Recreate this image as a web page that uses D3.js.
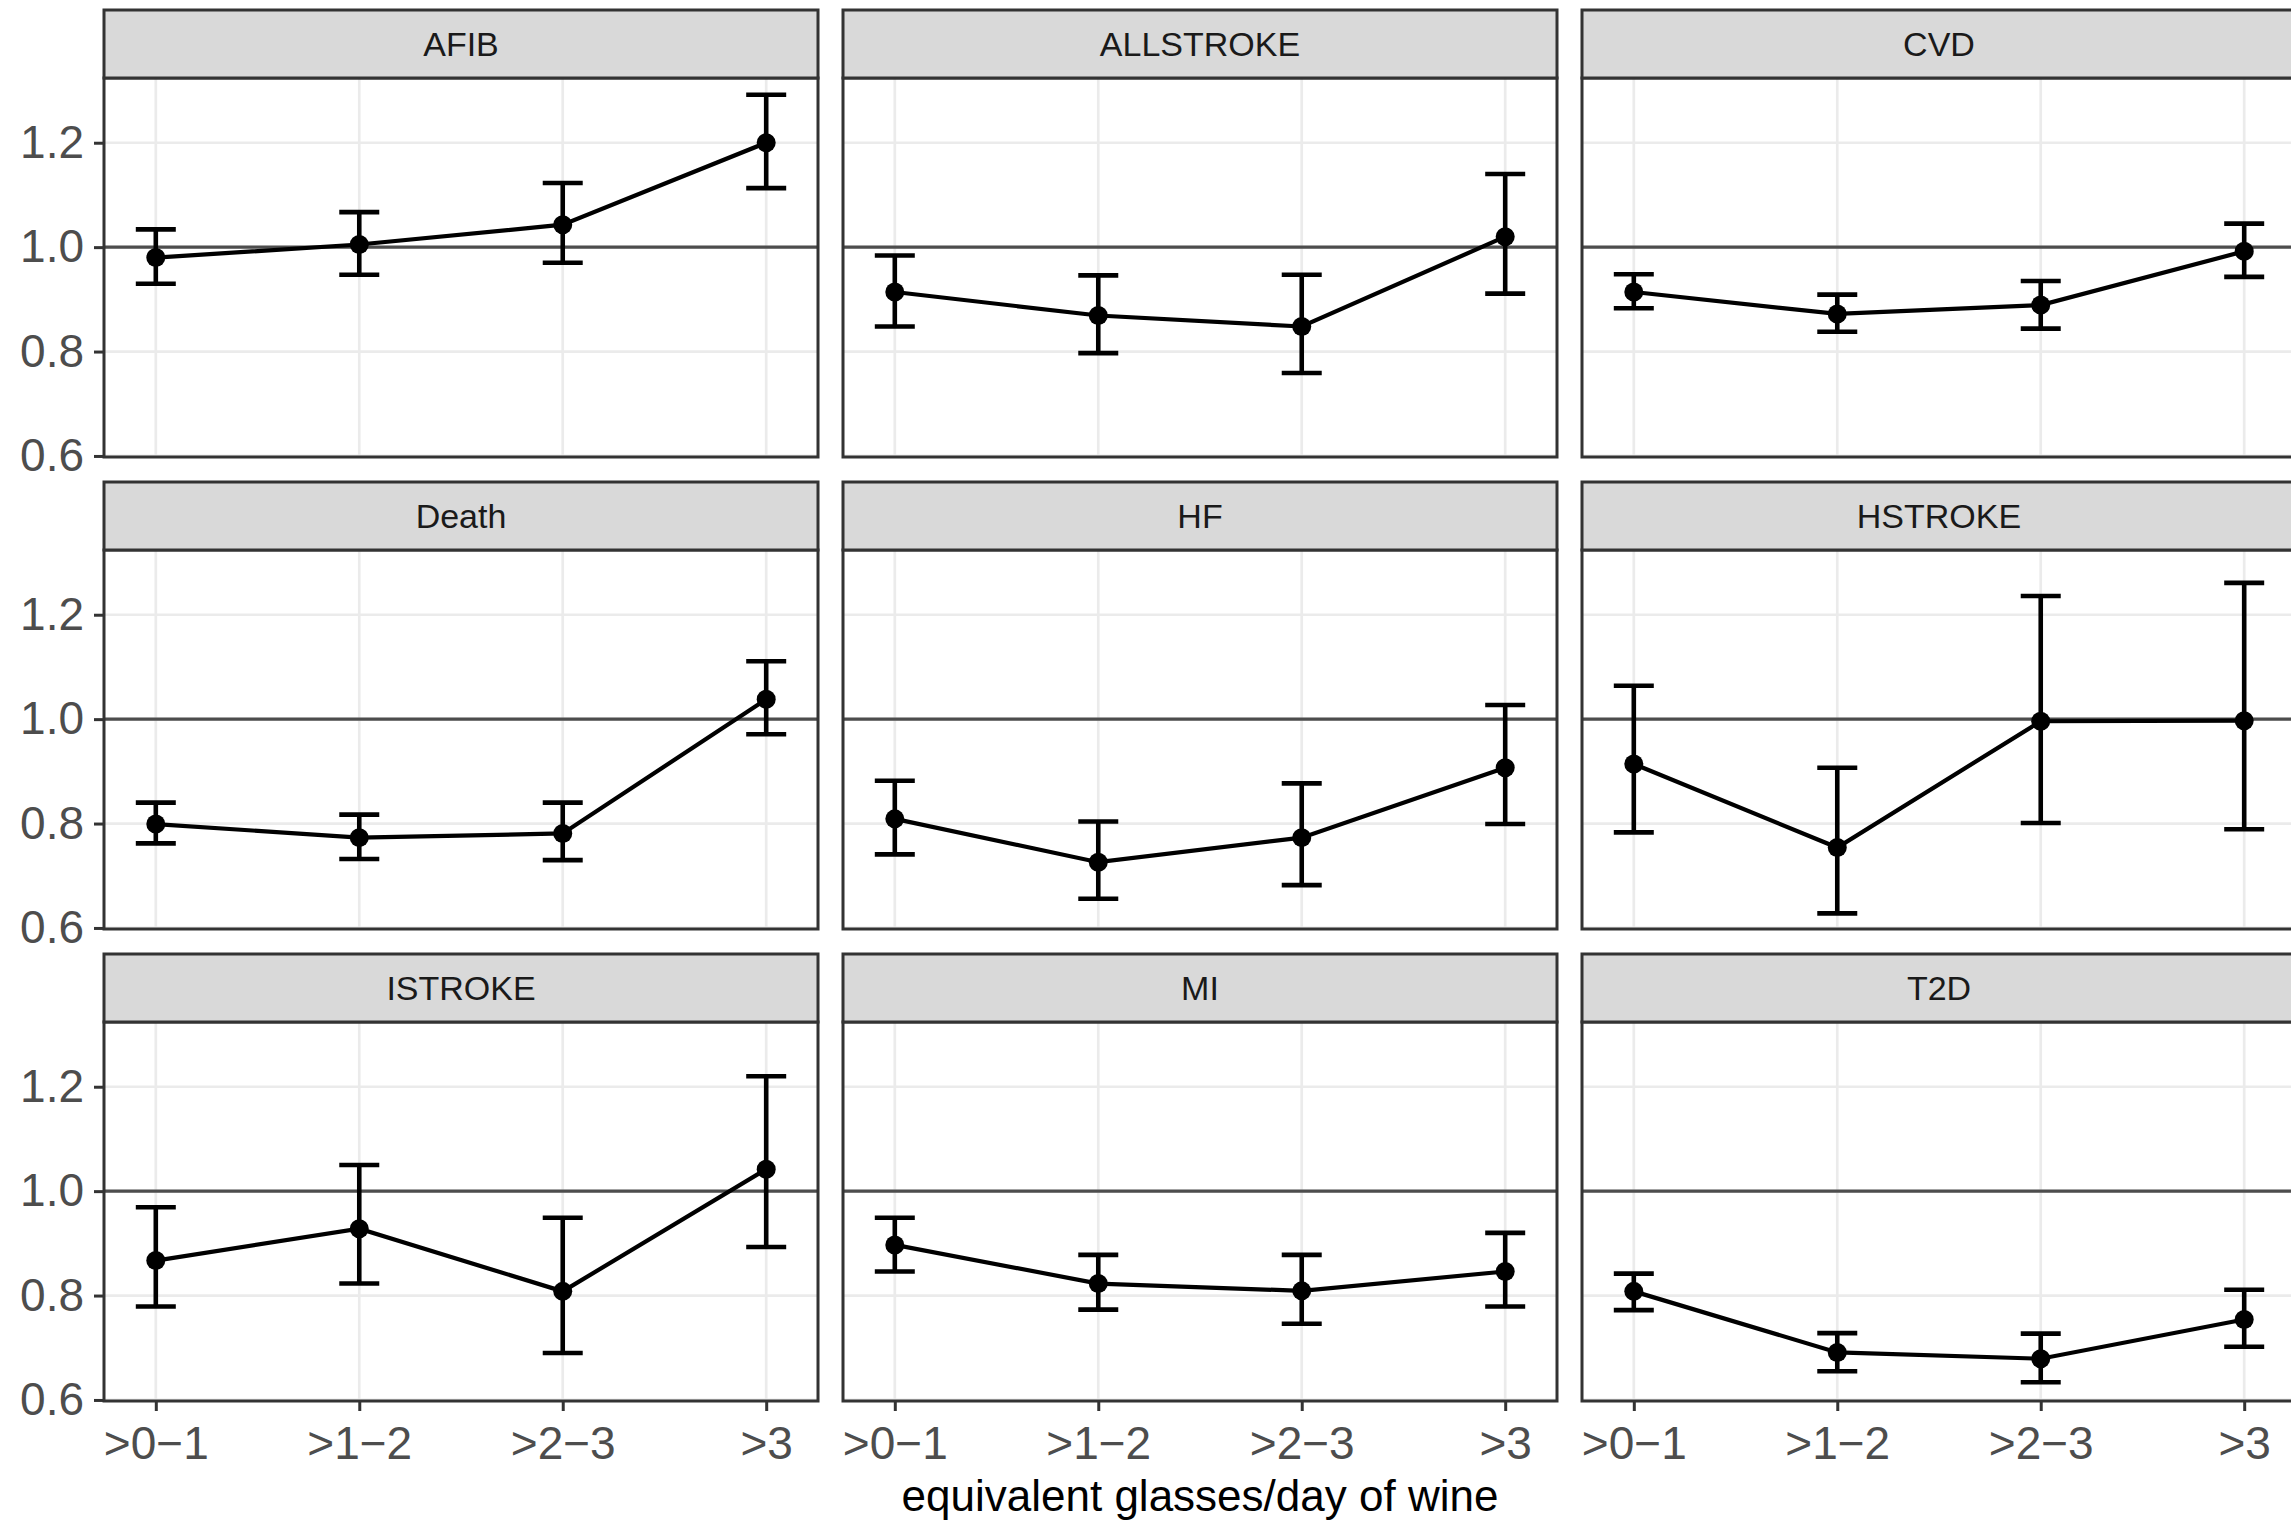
<!DOCTYPE html>
<html>
<head>
<meta charset="utf-8">
<script src="https://cdn.jsdelivr.net/npm/d3@7"></script>
<style>
  body { margin: 0; background: #fff; }
  svg { display: block; font-family: "Liberation Sans", Arial, sans-serif; }
</style>
</head>
<body>
<div id="chart"></div>
<script>
// facets, in reading order
var outcomes = ["AFIB", "ALLSTROKE", "CVD", "Death", "HF", "HSTROKE", "ISTROKE", "MI", "T2D"];
var doses = [">0\u22121", ">1\u22122", ">2\u22123", ">3"];
var yTicks = [0.6, 0.8, 1.0, 1.2];

// hazard ratio estimate per outcome, per dose group
var ratio = [
  [0.980, 1.005, 1.043, 1.200],
  [0.914, 0.869, 0.848, 1.020],
  [0.914, 0.872, 0.889, 0.992],
  [0.799, 0.773, 0.781, 1.038],
  [0.809, 0.726, 0.773, 0.907],
  [0.914, 0.754, 0.996, 0.997],
  [0.867, 0.928, 0.808, 1.042],
  [0.897, 0.823, 0.809, 0.846],
  [0.808, 0.691, 0.679, 0.754]
];
var lower = [
  [0.930, 0.947, 0.970, 1.113],
  [0.848, 0.797, 0.759, 0.911],
  [0.883, 0.838, 0.844, 0.943],
  [0.762, 0.732, 0.730, 0.971],
  [0.741, 0.656, 0.682, 0.799],
  [0.783, 0.628, 0.801, 0.789],
  [0.779, 0.823, 0.690, 0.893],
  [0.846, 0.773, 0.746, 0.779],
  [0.772, 0.655, 0.634, 0.702]
];
var upper = [
  [1.034, 1.067, 1.123, 1.292],
  [0.984, 0.946, 0.947, 1.140],
  [0.948, 0.909, 0.935, 1.045],
  [0.840, 0.817, 0.840, 1.111],
  [0.882, 0.804, 0.877, 1.027],
  [1.064, 0.907, 1.236, 1.261],
  [0.969, 1.050, 0.949, 1.220],
  [0.949, 0.878, 0.878, 0.920],
  [0.842, 0.728, 0.727, 0.811]
];

var width = 2291, height = 1522;
var panelW = 714, panelH = 379, stripH = 68;
var colX = [104, 843, 1582];
var rowY = [10, 482, 954];

var svg = d3.select("#chart").append("svg")
    .attr("width", width)
    .attr("height", height);

var x = d3.scalePoint()
    .domain(doses)
    .range([0, panelW])
    .padding(0.2546);

var y = d3.scaleLinear()
    .domain([0.598, 1.324])
    .range([panelH, 0]);

var line = d3.line()
    .x(function(d){ return x(d.dose); })
    .y(function(d){ return y(d.hr); });

outcomes.forEach(function(name, k){
  var col = k % 3, row = Math.floor(k / 3);
  var rows = doses.map(function(d, i){
    return {dose: d, hr: ratio[k][i], lo: lower[k][i], hi: upper[k][i]};
  });

  var g = svg.append("g")
      .attr("transform", "translate(" + colX[col] + "," + (rowY[row] + stripH) + ")");

  // strip
  svg.append("rect")
      .attr("x", colX[col]).attr("y", rowY[row])
      .attr("width", panelW).attr("height", stripH)
      .attr("fill", "#d9d9d9")
      .attr("stroke", "#333").attr("stroke-width", 3);
  svg.append("text")
      .attr("x", colX[col] + panelW / 2)
      .attr("y", rowY[row] + stripH / 2)
      .attr("dy", "0.36em")
      .attr("text-anchor", "middle")
      .attr("font-size", 34)
      .attr("fill", "#1a1a1a")
      .text(name);

  // grid
  g.selectAll(".gy").data(yTicks).enter().append("line")
      .attr("x1", 0).attr("x2", panelW)
      .attr("y1", function(d){ return y(d); })
      .attr("y2", function(d){ return y(d); })
      .attr("stroke", "#ebebeb").attr("stroke-width", 2.7);
  g.selectAll(".gx").data(doses).enter().append("line")
      .attr("x1", function(d){ return x(d); })
      .attr("x2", function(d){ return x(d); })
      .attr("y1", 0).attr("y2", panelH)
      .attr("stroke", "#ebebeb").attr("stroke-width", 2.7);

  // reference line at 1
  g.append("line")
      .attr("x1", 0).attr("x2", panelW)
      .attr("y1", y(1)).attr("y2", y(1))
      .attr("stroke", "#4d4d4d").attr("stroke-width", 3.4);

  // error bars
  var eb = g.selectAll(".eb").data(rows).enter().append("g");
  eb.append("line")
      .attr("x1", function(d){ return x(d.dose); })
      .attr("x2", function(d){ return x(d.dose); })
      .attr("y1", function(d){ return y(d.lo); })
      .attr("y2", function(d){ return y(d.hi); });
  eb.append("line")
      .attr("x1", function(d){ return x(d.dose) - 20; })
      .attr("x2", function(d){ return x(d.dose) + 20; })
      .attr("y1", function(d){ return y(d.lo); })
      .attr("y2", function(d){ return y(d.lo); });
  eb.append("line")
      .attr("x1", function(d){ return x(d.dose) - 20; })
      .attr("x2", function(d){ return x(d.dose) + 20; })
      .attr("y1", function(d){ return y(d.hi); })
      .attr("y2", function(d){ return y(d.hi); });
  eb.selectAll("line").attr("stroke", "#000").attr("stroke-width", 4.6);

  g.append("path")
      .datum(rows)
      .attr("d", line)
      .attr("fill", "none")
      .attr("stroke", "#000")
      .attr("stroke-width", 4.2);

  g.selectAll(".pt").data(rows).enter().append("circle")
      .attr("cx", function(d){ return x(d.dose); })
      .attr("cy", function(d){ return y(d.hr); })
      .attr("r", 9.5)
      .attr("fill", "#000");

  // panel border
  g.append("rect")
      .attr("width", panelW).attr("height", panelH)
      .attr("fill", "none")
      .attr("stroke", "#333").attr("stroke-width", 3);

  // axes
  if (col === 0) {
    var ay = g.append("g")
        .call(d3.axisLeft(y).tickValues(yTicks).tickSize(10).tickPadding(10)
          .tickFormat(d3.format(".1f")));
    styleAxis(ay);
  }
  if (row === 2) {
    var ax = g.append("g")
        .attr("transform", "translate(0," + panelH + ")")
        .call(d3.axisBottom(x).tickSize(10).tickPadding(15));
    styleAxis(ax);
  }
});

function styleAxis(a){
  a.select(".domain").remove();
  a.selectAll(".tick line").attr("stroke", "#333").attr("stroke-width", 3);
  a.selectAll(".tick text")
      .attr("fill", "#4d4d4d")
      .attr("font-size", 46)
      .attr("font-family", "Liberation Sans, Arial, sans-serif");
}

svg.append("text")
    .attr("x", (colX[0] + colX[2] + panelW) / 2)
    .attr("y", 1511)
    .attr("text-anchor", "middle")
    .attr("font-size", 44)
    .attr("fill", "#000")
    .text("equivalent glasses/day of wine");
</script>
</body>
</html>
